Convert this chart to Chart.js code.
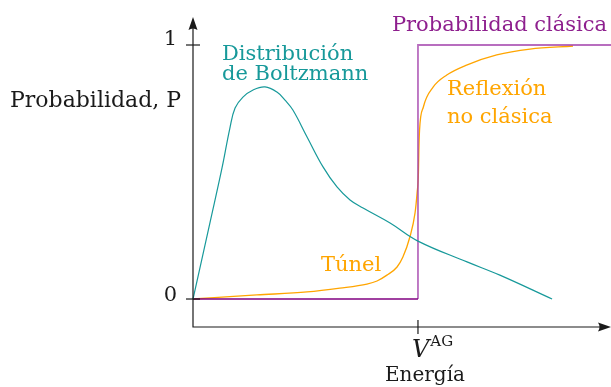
<!DOCTYPE html>
<html>
<head>
<meta charset="utf-8">
<script src="https://cdn.jsdelivr.net/npm/chart.js@4/dist/chart.umd.min.js"></script>
<style>
  html, body { margin: 0; padding: 0; background: #fff; }
  #wrap { width: 611px; height: 387px; }
</style>
</head>
<body>
<div id="wrap"><canvas id="c" width="611" height="387"></canvas></div>
<script>
// Energy axis in units of the barrier height V^AG (V^AG = 1)
const boltzmannE = [0, 0.076, 0.129, 0.164, 0.187, 0.222, 0.267, 0.320, 0.373, 0.409, 0.444, 0.507, 0.578, 0.640, 0.698, 0.756, 0.876, 1.0, 1.218, 1.364, 1.596];
const boltzmannP = [0, 0.303, 0.516, 0.673, 0.752, 0.795, 0.823, 0.835, 0.815, 0.783, 0.744, 0.638, 0.520, 0.441, 0.390, 0.358, 0.299, 0.228, 0.146, 0.094, 0];

const cuanticaE = [0, 0.284, 0.507, 0.653, 0.773, 0.818, 0.862, 0.907, 0.933, 0.964, 0.987, 0.996, 1.002, 1.004, 1.007, 1.024, 1.068, 1.128, 1.216, 1.350, 1.498, 1.689];
const cuanticaP = [0, 0.016, 0.028, 0.043, 0.059, 0.071, 0.094, 0.126, 0.165, 0.244, 0.339, 0.417, 0.496, 0.587, 0.665, 0.756, 0.835, 0.882, 0.921, 0.961, 0.984, 0.996];

const clasicaBajaE = [0, 1];
const clasicaBajaP = [0, 0];
const clasicaAltaE = [1, 1, 1.858];
const clasicaAltaP = [0, 1, 1];

const yTicks = [0, 1];
const yTickLabels = ['0', '1'];
const xTicks = [1];

const TEAL = '#17999a';
const ORANGE = '#ffa500';
const PURPLE = '#8e1f8e';
const SERIF = '"DejaVu Serif", "Liberation Serif", serif';

// Annotation text, anchored in data coordinates (left edge, baseline)
const notas = [
  { text: 'Probabilidad clásica', x: 0.884, y: 1.055, color: PURPLE },
  { text: 'Distribución', x: 0.129, y: 0.941, color: TEAL },
  { text: 'de Boltzmann', x: 0.129, y: 0.862, color: TEAL },
  { text: 'Reflexión', x: 1.129, y: 0.803, color: ORANGE },
  { text: 'no clásica', x: 1.129, y: 0.694, color: ORANGE },
  { text: 'Túnel', x: 0.569, y: 0.110, color: ORANGE }
];

const pts = (xs, ys) => xs.map((x, i) => ({ x, y: ys[i] }));

function arrow(ctx, x, y, dir) {
  ctx.beginPath();
  if (dir === 'up') {
    ctx.moveTo(x, y);
    ctx.lineTo(x - 4.5, y + 13);
    ctx.quadraticCurveTo(x, y + 10, x + 4.5, y + 13);
  } else {
    ctx.moveTo(x, y);
    ctx.lineTo(x - 13, y - 4.5);
    ctx.quadraticCurveTo(x - 10, y, x - 13, y + 4.5);
  }
  ctx.closePath();
  ctx.fill();
}

const ejes = {
  id: 'ejes',
  afterDatasetsDraw(chart) {
    const { ctx, chartArea: a, scales: { x, y } } = chart;
    const x0 = x.getPixelForValue(0);
    const yb = a.bottom;
    ctx.save();
    ctx.strokeStyle = '#1a1a1a';
    ctx.fillStyle = '#1a1a1a';
    ctx.lineWidth = 1.2;
    // axes
    ctx.beginPath();
    ctx.moveTo(x0, a.top + 6);
    ctx.lineTo(x0, yb);
    ctx.lineTo(a.right - 6, yb);
    ctx.stroke();
    arrow(ctx, x0, a.top - 1, 'up');
    arrow(ctx, a.right, yb, 'right');

    // y ticks
    ctx.font = '21px ' + SERIF;
    ctx.textAlign = 'right';
    ctx.textBaseline = 'alphabetic';
    yTicks.forEach((v, i) => {
      const py = y.getPixelForValue(v);
      ctx.beginPath();
      ctx.moveTo(x0 - 7, py);
      ctx.lineTo(x0 + 7, py);
      ctx.stroke();
      ctx.fillText(yTickLabels[i], x0 - 16, py + (i === 0 ? 1.5 : 0));
    });

    // x tick at the barrier energy
    xTicks.forEach(v => {
      const px = x.getPixelForValue(v);
      ctx.beginPath();
      ctx.moveTo(px, yb - 7);
      ctx.lineTo(px, yb + 7);
      ctx.stroke();
      ctx.textAlign = 'left';
      ctx.font = 'italic 24px ' + SERIF;
      ctx.fillText('V', px - 6, yb + 30);
      const w = ctx.measureText('V').width;
      ctx.font = '15px ' + SERIF;
      ctx.fillText('AG', px - 6 + w + 1, yb + 19);
      ctx.font = '20px ' + SERIF;
      ctx.textAlign = 'center';
      ctx.fillText('Energía', px + 7, yb + 54);
    });

    // y axis title
    ctx.textAlign = 'left';
    ctx.font = '22px ' + SERIF;
    ctx.fillText('Probabilidad, P', 10, 107);

    // curve annotations
    ctx.font = '21px ' + SERIF;
    notas.forEach(n => {
      ctx.fillStyle = n.color;
      ctx.fillText(n.text, x.getPixelForValue(n.x), y.getPixelForValue(n.y));
    });
    ctx.restore();
  }
};

new Chart(document.getElementById('c'), {
  type: 'scatter',
  data: {
    datasets: [
      {
        label: 'Distribución de Boltzmann',
        data: pts(boltzmannE, boltzmannP),
        showLine: true, borderColor: TEAL, borderWidth: 1.2,
        pointRadius: 0, tension: 0.4, clip: false
      },
      {
        label: 'Probabilidad clásica (E < V)',
        data: pts(clasicaBajaE, clasicaBajaP),
        showLine: true, borderColor: '#800080', borderWidth: 1.4,
        pointRadius: 0, tension: 0, clip: false
      },
      {
        label: 'Probabilidad clásica',
        data: pts(clasicaAltaE, clasicaAltaP),
        showLine: true, borderColor: 'rgba(160, 60, 170, 0.75)', borderWidth: 1.8,
        pointRadius: 0, tension: 0, clip: false
      },
      {
        label: 'Túnel / Reflexión no clásica',
        data: pts(cuanticaE, cuanticaP),
        showLine: true, borderColor: ORANGE, borderWidth: 1.3,
        pointRadius: 0, cubicInterpolationMode: 'monotone', clip: false
      }
    ]
  },
  options: {
    responsive: false,
    animation: false,
    devicePixelRatio: 1,
    layout: { padding: { left: 193, right: 0, top: 18, bottom: 60 } },
    plugins: { legend: { display: false }, tooltip: { enabled: false } },
    scales: {
      x: { type: 'linear', min: 0, max: 1.858, display: false },
      y: { type: 'linear', min: -0.1102, max: 1.1063, display: false }
    }
  },
  plugins: [ejes]
});
</script>
</body>
</html>
